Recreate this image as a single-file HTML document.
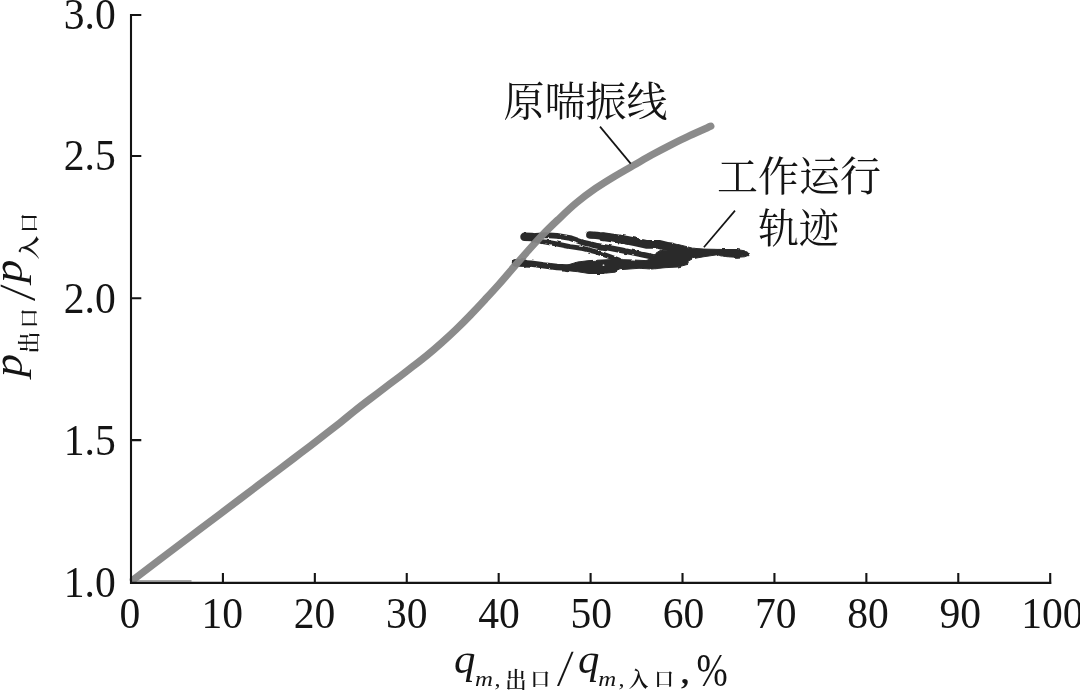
<!DOCTYPE html>
<html lang="zh">
<head>
<meta charset="utf-8">
<title>原喘振线 工作运行轨迹</title>
<style>
html,body{margin:0;padding:0;background:#fff;}
body{width:1080px;height:690px;overflow:hidden;position:relative;}
svg{position:absolute;left:0;top:0;display:block;}
text{fill:#141414;}
.num{font-family:"Liberation Serif","Noto Serif CJK SC",serif;}
.cjk{font-family:"Liberation Serif","Noto Serif CJK SC",serif;}
.it{font-family:"Liberation Serif",serif;font-style:italic;}
.sub{font-family:"Liberation Serif","Noto Serif CJK SC",serif;font-weight:600;}
.sl{font-family:"Noto Serif CJK SC","Liberation Serif",serif;font-weight:300;}
</style>
</head>
<body>
<svg width="1080" height="690" viewBox="0 0 1080 690">
<rect x="0" y="0" width="1080" height="690" fill="#ffffff"/>

<defs><filter id="rough" x="-5%" y="-20%" width="110%" height="140%"><feTurbulence type="fractalNoise" baseFrequency="0.13" numOctaves="2" seed="4" result="n"/><feDisplacementMap in="SourceGraphic" in2="n" scale="2.8" xChannelSelector="R" yChannelSelector="G" result="d"/><feGaussianBlur in="d" stdDeviation="0.45"/></filter></defs>
<g id="blob" fill="#2c2c2c" stroke="#2c2c2c" stroke-linejoin="round" stroke-linecap="round" filter="url(#rough)">
<path fill="none" stroke-width="8.5" d="M524.5,236.8 L532,237"/>
<path fill="none" stroke-width="5.8" d="M530,236.5 L545,235.2 L557,235.9 L570,238.0 L583,242.5 L596,245.6 L609,247.9 L622,250.4 L634.6,253 L646,255.3 L656,257.5"/>
<path fill="none" stroke-width="5" d="M533,239.5 L544,241.7 L557,244 L570,246.6 L583,248.5 L596,251.8 L609,256.3 L619,260"/>
<path fill="none" stroke-width="7.4" d="M589.8,235.0 L596,235.4 L609,237.2"/>
<path fill="none" stroke-width="8.8" d="M603,236.6 L622,239.3 L634.6,241.8 L646,244.3 L659,244.4 L672,247.5"/>
<path fill="none" stroke-width="7.6" d="M515.6,262.9 L524,263"/>
<path fill="none" stroke-width="6.4" d="M522,263.3 L531,263.6 L544,265.4 L557,267 L572,267.8"/>
<path stroke-width="1" d="M566,265.5 L577.6,262 L589,260.6 L602,260 L615,259.4 L633,260 L646,260.6 L649,259.5 L654,255 L662,250 L670,250.5 L668,243 L672,243 L685,246.2 L692.6,248.2 L704,249.1 L724,249.5 L737,249.5 L744.5,250.8 L749.3,253.2 L748,255.5 L744.5,256.8 L737,257.3 L726,256.7 L717,254.8 L704,256.7 L692.6,258.7 L688,261.3 L687.2,264.5 L678,267 L665,267.7 L652,269 L639,268.3 L620,269.7 L615,272.2 L602,273.5 L589,273.5 L577.6,271.7 L566,270.5 Z"/>
</g>
<circle cx="603.5" cy="265.2" r="0.9" fill="#cfcfcf"/>
<line x1="132" y1="580.9" x2="191.5" y2="580.9" stroke="#a6a6a6" stroke-width="1.7"/>
<path id="surge" d="M133.4,579.6 C137.8,576.2 148.9,567.8 160.0,559.4 C171.1,551.0 186.7,539.3 200.0,529.2 C213.3,519.1 226.7,509.1 240.0,499.0 C253.3,488.9 270.0,476.4 280.0,468.8 C290.0,461.2 293.3,458.8 300.0,453.7 C306.7,448.6 313.3,443.5 320.0,438.4 C326.7,433.2 334.2,427.4 340.0,422.8 C345.8,418.2 350.0,414.6 355.0,410.6 C360.0,406.6 365.0,402.8 370.0,399.0 C375.0,395.2 380.0,391.4 385.0,387.6 C390.0,383.8 395.4,379.8 400.0,376.3 C404.6,372.8 408.0,370.2 412.5,366.7 C417.0,363.2 422.2,359.2 427.0,355.3 C431.8,351.4 436.6,347.3 441.4,343.0 C446.2,338.7 451.1,334.2 455.9,329.6 C460.7,325.0 465.6,320.1 470.4,315.1 C475.2,310.1 480.1,304.9 484.9,299.7 C489.7,294.5 494.6,289.2 499.4,283.8 C504.2,278.4 509.1,272.6 513.9,267.0 C518.7,261.4 523.6,255.8 528.4,250.4 C533.2,245.0 538.0,239.6 542.9,234.5 C547.8,229.4 552.1,225.3 557.7,220.0 C563.3,214.7 570.2,208.0 576.5,202.8 C582.8,197.6 589.0,193.0 595.3,188.6 C601.6,184.2 607.9,180.4 614.2,176.6 C620.5,172.8 626.7,169.3 633.0,165.7 C639.3,162.1 645.5,158.4 651.8,154.9 C658.1,151.4 664.4,148.1 670.7,144.9 C677.0,141.7 682.8,138.8 689.5,135.7 C696.2,132.6 707.2,127.8 710.8,126.2" fill="none" stroke="#858585" stroke-width="7.3" stroke-linecap="round" stroke-linejoin="round" opacity="0.95"/>
<g stroke="#141414" stroke-width="2.1" fill="none" stroke-linecap="butt">
<path d="M131,14 V583.9"/>
<path d="M130,582.85 H1051.2" stroke-width="2.2"/>
<path d="M131,15 H141.3 M131,156.0 H141.3 M131,298.2 H141.3 M131,440.1 H141.3"/>
<path d="M222.92,583.9 V573 M314.84,583.9 V573 M406.76,583.9 V573 M498.68,583.9 V573 M590.60,583.9 V573 M682.52,583.9 V573 M774.44,583.9 V573 M866.36,583.9 V573 M958.28,583.9 V573 M1050.20,583.9 V573"/>
</g>
<text class="num" font-size="44" transform="translate(115.70,28.80) scale(0.945,1)" text-anchor="end">3.0</text>
<text class="num" font-size="44" transform="translate(115.70,170.30) scale(0.945,1)" text-anchor="end">2.5</text>
<text class="num" font-size="44" transform="translate(115.70,313.00) scale(0.945,1)" text-anchor="end">2.0</text>
<text class="num" font-size="44" transform="translate(115.70,455.30) scale(0.945,1)" text-anchor="end">1.5</text>
<text class="num" font-size="44" transform="translate(115.70,597.00) scale(0.945,1)" text-anchor="end">1.0</text>
<text class="num" font-size="44" transform="translate(130.00,628.40) scale(0.945,1)" text-anchor="middle">0</text>
<text class="num" font-size="44" transform="translate(222.25,628.40) scale(0.945,1)" text-anchor="middle">10</text>
<text class="num" font-size="44" transform="translate(314.50,628.40) scale(0.945,1)" text-anchor="middle">20</text>
<text class="num" font-size="44" transform="translate(406.75,628.40) scale(0.945,1)" text-anchor="middle">30</text>
<text class="num" font-size="44" transform="translate(499.00,628.40) scale(0.945,1)" text-anchor="middle">40</text>
<text class="num" font-size="44" transform="translate(591.25,628.40) scale(0.945,1)" text-anchor="middle">50</text>
<text class="num" font-size="44" transform="translate(683.50,628.40) scale(0.945,1)" text-anchor="middle">60</text>
<text class="num" font-size="44" transform="translate(775.75,628.40) scale(0.945,1)" text-anchor="middle">70</text>
<text class="num" font-size="44" transform="translate(868.00,628.40) scale(0.945,1)" text-anchor="middle">80</text>
<text class="num" font-size="44" transform="translate(960.25,628.40) scale(0.945,1)" text-anchor="middle">90</text>
<text class="num" font-size="44" transform="translate(1021.30,628.40) scale(0.945,1)">100</text>
<text class="cjk" font-size="41" x="503.60" y="115.80">原喘振线</text>
<text class="cjk" font-size="41" x="716.90" y="191.10">工作运行</text>
<text class="cjk" font-size="40.5" x="758.20" y="242.80">轨迹</text>
<g stroke="#141414" stroke-width="1.7" stroke-linecap="butt">
<line x1="600" y1="126.6" x2="630.7" y2="163.6"/>
<line x1="735" y1="210.6" x2="703.9" y2="247.2"/>
</g>
<text class="it" font-size="41.5" transform="translate(454.10,672.70) scale(1.03,1)">q</text>
<text class="it" font-size="22" transform="translate(475.00,685.80) scale(1.13,1)">m</text>
<text class="num" font-size="22" transform="translate(494.40,685.60) scale(1.1,1)">,</text>
<text class="sub" font-size="23" transform="translate(505.20,687.80) scale(0.93,1)">出</text>
<text class="sub" font-size="19.7" x="530.60" y="686.30">口</text>
<text class="sl" font-size="36.5" transform="translate(556.70,680.30) scale(1.37,1)">/</text>
<text class="it" font-size="41.5" transform="translate(577.90,672.70) scale(1.03,1)">q</text>
<text class="it" font-size="22" transform="translate(598.20,685.80) scale(1.13,1)">m</text>
<text class="num" font-size="22" transform="translate(618.60,685.60) scale(1.1,1)">,</text>
<text class="sub" font-size="22" transform="translate(628.80,686.60) scale(0.895,1)">入</text>
<text class="sub" font-size="19.7" x="654.20" y="686.30">口</text>
<text class="num" font-size="32" x="681.10" y="683.60" font-weight="bold">,</text>
<text class="num" font-size="46" transform="translate(696.60,686.00) scale(0.815,1)">%</text>
<g transform="translate(22.3,380) rotate(-90)">
<text class="it" font-size="41.5" transform="translate(2.90,0.00) scale(1.12,1)">p</text>
<text class="sub" font-size="23" transform="translate(26.50,15.10) scale(0.95,1)">出</text>
<text class="sub" font-size="19.7" x="52.05" y="13.60">口</text>
<text class="sl" font-size="36.5" transform="translate(78.70,6.40) scale(1.37,1)">/</text>
<text class="it" font-size="41.5" transform="translate(97.30,0.00) scale(1.12,1)">p</text>
<text class="sub" font-size="22" transform="translate(120.40,15.00) scale(1.08,1)">入</text>
<text class="sub" font-size="19.7" x="147.15" y="13.60">口</text>
</g>
</svg>
</body>
</html>
